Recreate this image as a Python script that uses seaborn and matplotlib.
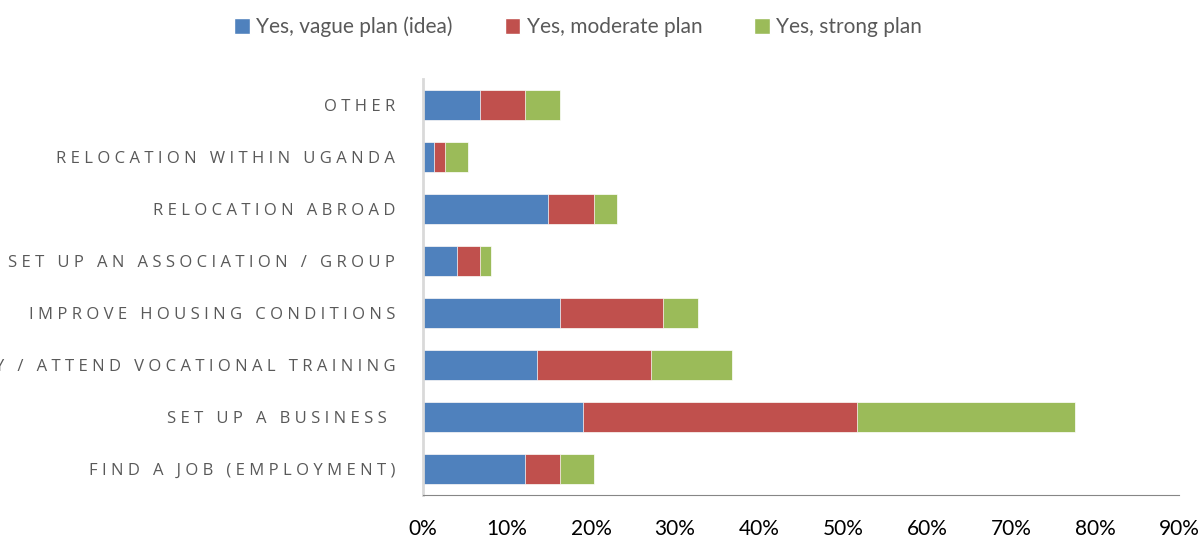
import numpy as np
import pandas as pd
import seaborn as sns
import matplotlib.pyplot as plt
from matplotlib.patches import Patch

# categories, top to bottom as in the chart
categories = ['Other', 'Relocation within Uganda', 'Relocation abroad',
              'Set up an association / group', 'Improve housing conditions',
              'Study / attend vocational training', 'Set up a business ',
              'Find a job (employment)']
vague = [6.8, 1.3, 14.9, 4.0, 16.3, 13.6, 19.0, 12.2]
moderate = [5.4, 1.3, 5.5, 2.8, 12.3, 13.5, 32.7, 4.1]
strong = [4.1, 2.8, 2.7, 1.3, 4.1, 9.7, 25.9, 4.1]
series = ['Yes, vague plan (idea)', 'Yes, moderate plan', 'Yes, strong plan']
colors = ['#4F81BD', '#C0504D', '#9BBB59']


def spaced(s):
    # imitate the wide letter spacing of the original labels
    return ' '.join(s.upper())


labels = [spaced(c) for c in categories]
df = pd.DataFrame({'cat': labels,
                   'v': vague,
                   'm': np.array(vague) + np.array(moderate),
                   't': np.array(vague) + np.array(moderate) + np.array(strong)})

sns.set_style('white')
plt.rcParams['font.family'] = ['Lato', 'DejaVu Sans']

fig = plt.figure(figsize=(12.02, 5.4), dpi=100)
ax = fig.add_axes([423 / 1202, 45 / 540, (1179 - 423) / 1202, (495 - 79) / 540])

# stacked look: draw cumulative totals from the back
for col, c in zip(['t', 'm', 'v'], [colors[2], colors[1], colors[0]]):
    sns.barplot(data=df, x=col, y='cat', order=labels, color=c, width=0.56,
                edgecolor='white', linewidth=0.5, saturation=1, ax=ax)

ax.set_xlim(0, 90)
ax.set_xticks(np.arange(0, 91, 10))
ax.set_xticklabels([f'{t}%' for t in range(0, 91, 10)], fontsize=15, color='black')
ax.tick_params(axis='x', direction='out', length=6, width=1, color='#868686', pad=11)
ax.tick_params(axis='y', length=0, pad=20, labelsize=12)
for t in ax.get_yticklabels():
    t.set_fontfamily(['Open Sans', 'DejaVu Sans'])
    t.set_color('#595959')
ax.set_xlabel('')
ax.set_ylabel('')
for s in ['top', 'right']:
    ax.spines[s].set_visible(False)
ax.spines['bottom'].set_color('#868686')
ax.spines['left'].set_color('#D9D9D9')
ax.spines['left'].set_linewidth(2)

handles = [Patch(facecolor=c, label=l) for c, l in zip(colors, series)]
fig.legend(handles=handles, loc='center', bbox_to_anchor=(0.481, 0.95), ncol=3,
           frameon=False, fontsize=15, handlelength=0.75, handleheight=0.75,
           handletextpad=0.3, columnspacing=2.5, labelcolor='#595959')

fig.savefig('out.png', dpi=100)
